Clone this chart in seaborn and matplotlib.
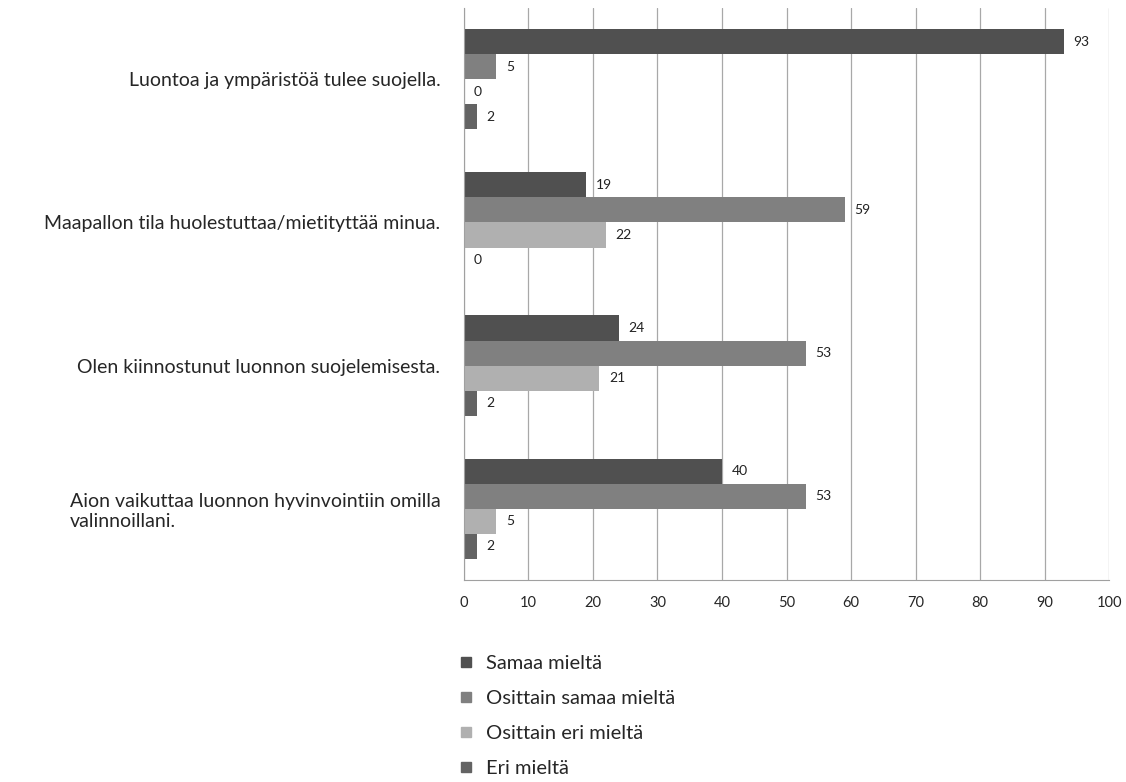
"""
grouped horizontal bar chart of environmental attitude survey
"""
import matplotlib
matplotlib.use("Agg")
import matplotlib.pyplot as plt
from matplotlib.lines import Line2D
import pandas as pd
import seaborn as sns

statements = [
    "Luontoa ja ympäristöä tulee suojella.",
    "Maapallon tila huolestuttaa/mietityttää minua.",
    "Olen kiinnostunut luonnon suojelemisesta.",
    "Aion vaikuttaa luonnon hyvinvointiin omilla\nvalinnoillani.",
]
answers = ["Samaa mieltä", "Osittain samaa mieltä", "Osittain eri mieltä", "Eri mieltä"]
samaa = [93, 19, 24, 40]
osittain_samaa = [5, 59, 53, 53]
osittain_eri = [0, 22, 21, 5]
eri = [2, 0, 2, 2]
colors = ["#505050", "#808080", "#b0b0b0", "#636363"]

rows = []
for vals, answer in zip([samaa, osittain_samaa, osittain_eri, eri], answers):
    for statement, v in zip(statements, vals):
        rows.append({"statement": statement, "answer": answer, "value": v})
df = pd.DataFrame(rows)

sns.set_style("white")
plt.rcParams["font.family"] = ["Lato", "DejaVu Sans"]

fig = plt.figure(figsize=(11.26, 7.82), dpi=100)
ax = fig.add_axes([0.412, 0.258, 0.573, 0.732])

sns.barplot(
    data=df, y="statement", x="value", hue="answer", orient="h",
    order=statements, hue_order=answers, palette=colors,
    width=0.7, saturation=1, legend=False, ax=ax, linewidth=0,
)

for container in ax.containers:
    ax.bar_label(container, fmt="%d", padding=7, fontsize=10, color="#222222")

ax.set_xlim(0, 100)
ax.set_xticks(range(0, 101, 10))
ax.set_xlabel("")
ax.set_ylabel("")
ax.grid(axis="x", color="#a8a8a8", linewidth=0.9)
ax.set_axisbelow(True)
for side in ["top", "right"]:
    ax.spines[side].set_visible(False)
for side in ["left", "bottom"]:
    ax.spines[side].set_color("#a0a0a0")
ax.tick_params(axis="x", length=5, color="#a0a0a0", labelsize=10.5, pad=6)
ax.tick_params(axis="y", length=0, labelsize=14, pad=17)
for lbl in ax.get_yticklabels():
    lbl.set_multialignment("left")

# legend under the chart
handles = [
    Line2D([], [], marker="s", linestyle="", markersize=7, color=c, label=a)
    for c, a in zip(colors, answers)
]
fig.legend(
    handles=handles, loc="upper left", bbox_to_anchor=(0.389, 0.186),
    frameon=False, fontsize=14.5, labelspacing=0.9, handletextpad=0.5,
    handlelength=1.0,
)

fig.savefig("out.png", dpi=100)
